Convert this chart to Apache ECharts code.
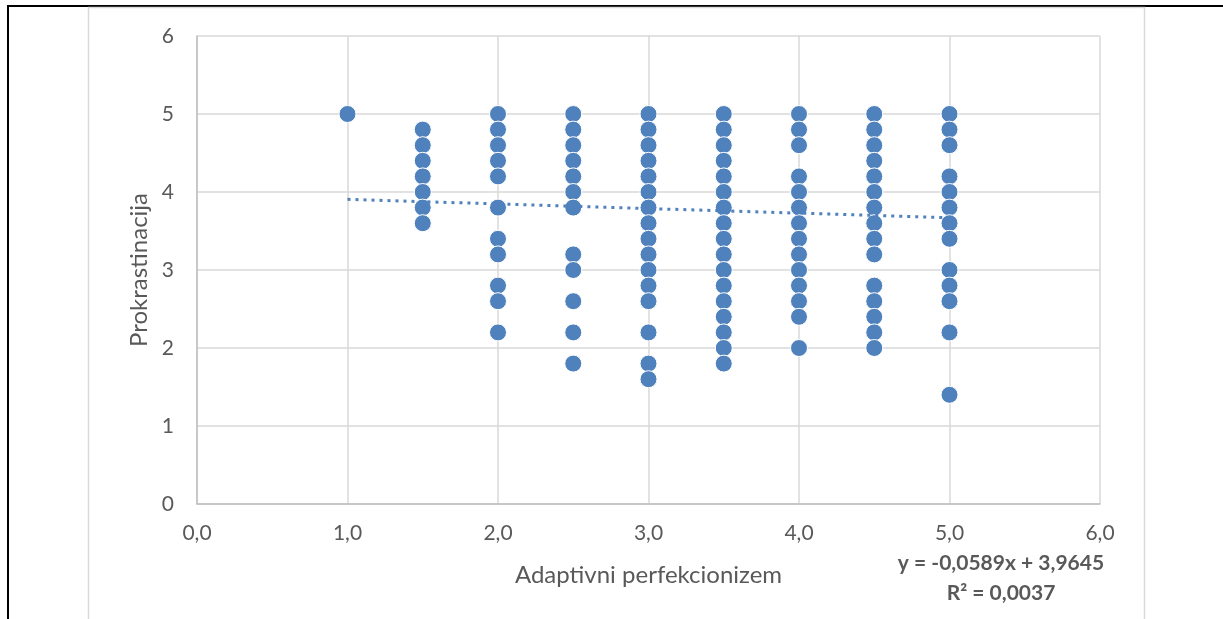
<!DOCTYPE html>
<html>
<head>
<meta charset="utf-8">
<script src="https://cdn.jsdelivr.net/npm/echarts@6/dist/echarts.min.js"></script>
<style>
  html, body { margin: 0; padding: 0; background: #fff; }
  #chart { width: 1223px; height: 619px; }
</style>
</head>
<body>
<div id="chart"></div>
<script>
// x groups (Adaptivni perfekcionizem) and y values (Prokrastinacija)
const xGroups = [1.0, 1.5, 2.0, 2.5, 3.0, 3.5, 4.0, 4.5, 5.0];
const y10 = [5.0];
const y15 = [4.8, 4.6, 4.4, 4.2, 4.0, 3.8, 3.6];
const y20 = [5.0, 4.8, 4.6, 4.4, 4.2, 3.8, 3.4, 3.2, 2.8, 2.6, 2.2];
const y25 = [5.0, 4.8, 4.6, 4.4, 4.2, 4.0, 3.8, 3.2, 3.0, 2.6, 2.2, 1.8];
const y30 = [5.0, 4.8, 4.6, 4.4, 4.2, 4.0, 3.8, 3.6, 3.4, 3.2, 3.0, 2.8, 2.6, 2.2, 1.8, 1.6];
const y35 = [5.0, 4.8, 4.6, 4.4, 4.2, 4.0, 3.8, 3.6, 3.4, 3.2, 3.0, 2.8, 2.6, 2.4, 2.2, 2.0, 1.8];
const y40 = [5.0, 4.8, 4.6, 4.2, 4.0, 3.8, 3.6, 3.4, 3.2, 3.0, 2.8, 2.6, 2.4, 2.0];
const y45 = [5.0, 4.8, 4.6, 4.4, 4.2, 4.0, 3.8, 3.6, 3.4, 3.2, 2.8, 2.6, 2.4, 2.2, 2.0];
const y50 = [5.0, 4.8, 4.6, 4.2, 4.0, 3.8, 3.6, 3.4, 3.0, 2.8, 2.6, 2.2, 1.4];
const yGroups = [y10, y15, y20, y25, y30, y35, y40, y45, y50];

// linear trendline as printed on the chart
const slope = -0.0589;
const intercept = 3.9645;
const trendX = [1.0, 5.0];

const xAxisTitle = 'Adaptivni perfekcionizem';
const yAxisTitle = 'Prokrastinacija';
const eqText = 'y = -0,0589x + 3,9645';
const r2Text = 'R² = 0,0037';

let points = [];
xGroups.forEach(function (x, i) {
  yGroups[i].forEach(function (y) { points.push([x, y]); });
});
let trend = trendX.map(function (x) { return [x, slope * x + intercept]; });

const blue = '#4f81bd';
const txt = '#595959';
const font = 'Lato, "Open Sans", sans-serif';

let myChart = echarts.init(document.getElementById('chart'));
let option = {
  animation: false,
  grid: { left: 197, right: 123, top: 36, bottom: 115 },
  xAxis: {
    type: 'value',
    min: 0, max: 6, interval: 1,
    name: xAxisTitle,
    nameLocation: 'middle',
    nameGap: 59,
    nameTextStyle: { color: txt, fontSize: 24, fontFamily: font },
    axisLine: { show: true, onZero: false, lineStyle: { color: '#bfbfbf', width: 1.5 } },
    axisTick: { show: false },
    axisLabel: {
      color: txt, fontSize: 21, fontFamily: font, margin: 19,
      formatter: function (v) { return v.toFixed(1).replace('.', ','); }
    },
    splitLine: { show: true, lineStyle: { color: '#d9d9d9', width: 1.5 } }
  },
  yAxis: {
    type: 'value',
    min: 0, max: 6, interval: 1,
    name: yAxisTitle,
    nameLocation: 'middle',
    nameGap: 45,
    nameTextStyle: { color: txt, fontSize: 24, fontFamily: font },
    axisLine: { show: true, onZero: false, lineStyle: { color: '#bfbfbf', width: 1.5 } },
    axisTick: { show: false },
    axisLabel: { color: txt, fontSize: 21, fontFamily: font, margin: 23 },
    splitLine: { show: true, lineStyle: { color: '#d9d9d9', width: 1.5 } }
  },
  series: [
    {
      type: 'scatter',
      data: points,
      symbol: 'circle',
      symbolSize: 17,
      itemStyle: { color: blue, opacity: 1, borderColor: '#ffffff', borderWidth: 1 },
      z: 3
    },
    {
      type: 'line',
      data: trend,
      symbol: 'none',
      lineStyle: { color: blue, width: 3, type: [3, 5] },
      z: 4
    }
  ],
  graphic: [
    // outer page frame
    { type: 'line', shape: { x1: 8, y1: 6, x2: 1223, y2: 6 }, style: { stroke: '#000', lineWidth: 2 } },
    { type: 'line', shape: { x1: 8, y1: 5, x2: 8, y2: 619 }, style: { stroke: '#000', lineWidth: 2 } },
    // chart area border
    { type: 'rect', shape: { x: 88.5, y: 7.5, width: 1056, height: 640 }, style: { fill: 'none', stroke: '#d9d9d9', lineWidth: 1.5 } },
    {
      type: 'text', x: 1001, y: 563,
      style: { text: eqText, fill: txt, font: 'bold 21px ' + font, textAlign: 'center', textVerticalAlign: 'middle' }
    },
    {
      type: 'text', x: 1001, y: 593,
      style: { text: r2Text, fill: txt, font: 'bold 21px ' + font, textAlign: 'center', textVerticalAlign: 'middle' }
    }
  ]
};
myChart.setOption(option);
</script>
</body>
</html>
